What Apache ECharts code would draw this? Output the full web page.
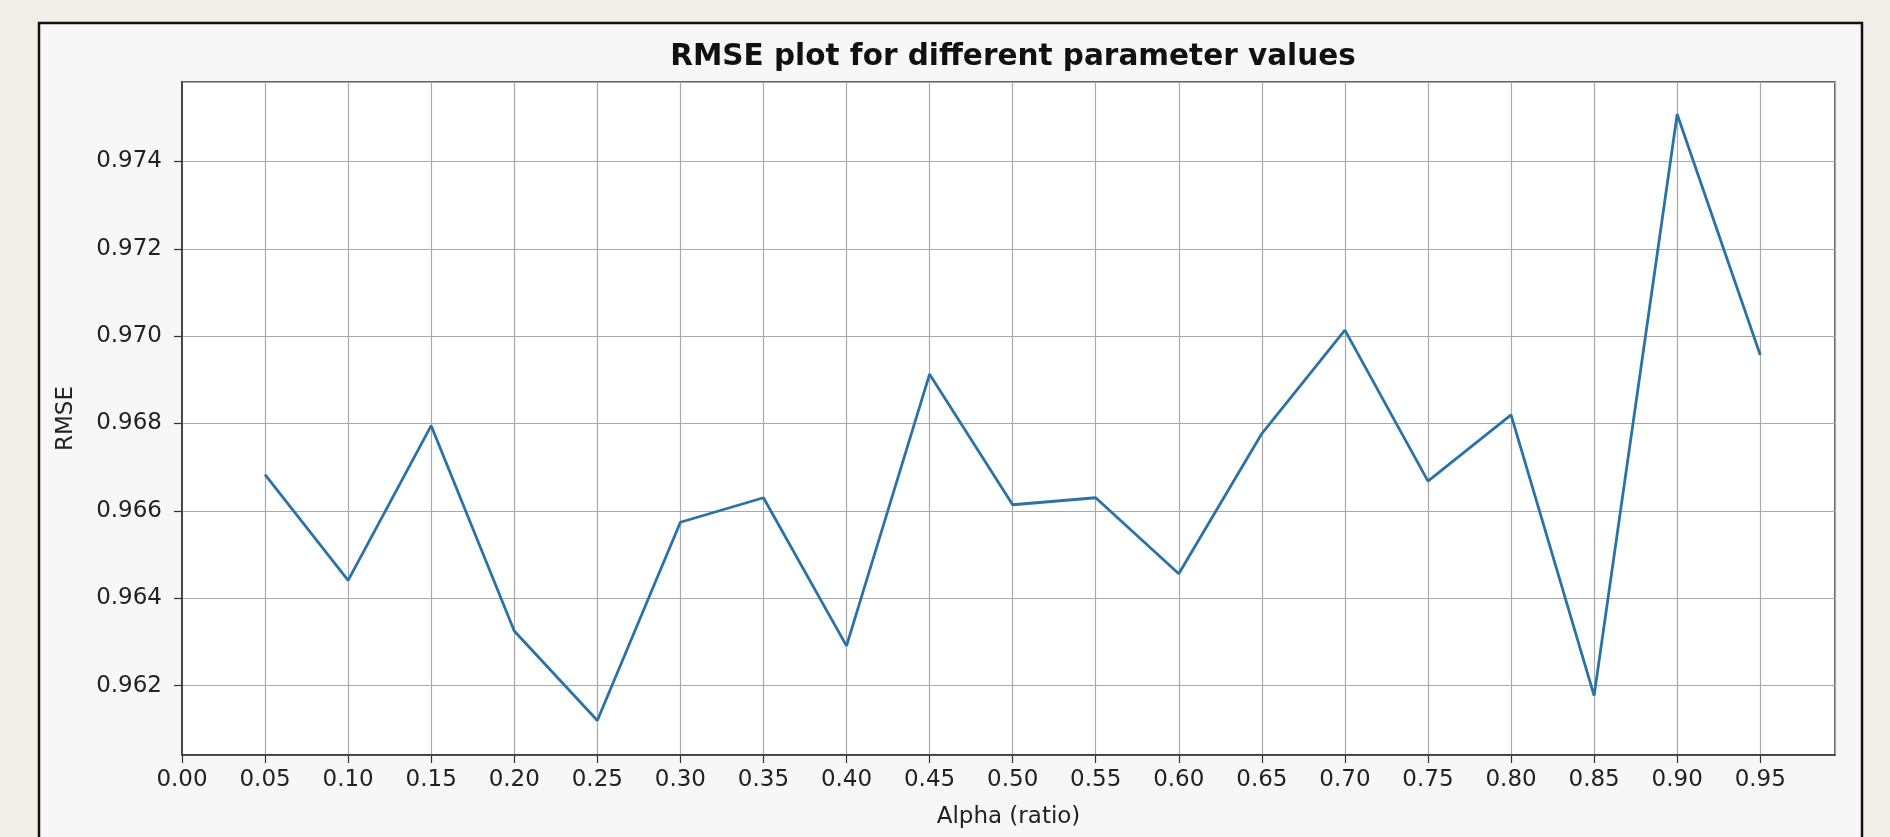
<!DOCTYPE html>
<html>
<head>
<meta charset="utf-8">
<title>RMSE plot</title>
<script src="https://cdn.jsdelivr.net/npm/echarts@6/dist/echarts.min.js"></script>
<style>
  html, body { margin: 0; padding: 0; background: #f1eee7; }
  #chart { width: 1890px; height: 837px; }
</style>
</head>
<body>
<div id="chart"></div>
<script>
// alpha 取值
var alphas = [0.05, 0.10, 0.15, 0.20, 0.25, 0.30, 0.35, 0.40, 0.45, 0.50,
  0.55, 0.60, 0.65, 0.70, 0.75, 0.80, 0.85, 0.90, 0.95];
// 每个 alpha 对应的 RMSE
var rmse = [0.96683, 0.96441, 0.96795, 0.96325, 0.96120, 0.96574, 0.96630, 0.96291, 0.96913, 0.96614,
  0.96630, 0.96456, 0.96777, 0.97014, 0.96668, 0.96820, 0.96177, 0.97508, 0.96957];
// 轴范围
var xRange = [0, 0.995];
var yRange = [0.96041, 0.97582];

var font = 'DejaVu Sans';
var chart = echarts.init(document.getElementById('chart'));
var option;

option = {
  backgroundColor: '#f1eee7',
  animation: false,
  // 外框
  graphic: [{
    type: 'rect',
    z: -100,
    silent: true,
    shape: { x: 39, y: 23, width: 1823, height: 900 },
    style: { fill: '#f7f7f7', stroke: '#111', lineWidth: 2.5 },
  }],
  title: {
    text: 'RMSE plot for different parameter values',
    left: 1008,
    top: 37,
    textAlign: 'center',
    textStyle: { fontFamily: font, fontWeight: 'bold', fontSize: 29.5, color: '#111' },
  },
  grid: {
    left: 182,
    top: 82,
    right: 55,
    bottom: 82,
    show: true,
    backgroundColor: '#ffffff',
    borderColor: '#333',
    borderWidth: 1.5,
  },
  xAxis: {
    type: 'value',
    min: xRange[0],
    max: xRange[1],
    interval: 0.05,
    name: 'Alpha (ratio)',
    nameLocation: 'middle',
    nameGap: 51,
    nameTextStyle: { fontFamily: font, fontSize: 23, color: '#222' },
    axisLine: { show: true, lineStyle: { color: '#333', width: 1.5 } },
    axisTick: { show: true, length: 8, lineStyle: { color: '#333', width: 1.2 } },
    axisLabel: {
      fontFamily: font, fontSize: 23, color: '#222', margin: 14,
      showMaxLabel: false,
      formatter: function (v) { return v.toFixed(2); },
    },
    splitLine: { show: true, lineStyle: { color: '#a8a8a8', width: 1.2 } },
  },
  yAxis: {
    type: 'value',
    min: yRange[0],
    max: yRange[1],
    splitNumber: 7,
    name: 'RMSE',
    nameLocation: 'middle',
    nameGap: 104,
    nameTextStyle: { fontFamily: font, fontSize: 23, color: '#222' },
    axisLine: { show: true, lineStyle: { color: '#333', width: 1.5 } },
    axisTick: { show: true, length: 8, lineStyle: { color: '#333', width: 1.2 } },
    axisLabel: {
      fontFamily: font, fontSize: 23, color: '#222', margin: 20,
      showMinLabel: false,
      showMaxLabel: false,
      formatter: function (v) { return v.toFixed(3); },
    },
    splitLine: { show: true, lineStyle: { color: '#a8a8a8', width: 1.2 } },
  },
  series: [{
    type: 'line',
    data: alphas.map(function (a, i) { return [a, rmse[i]]; }),
    showSymbol: false,
    lineStyle: { color: '#2b72a6', width: 2.8 },
  }],
};

chart.setOption(option);
</script>
</body>
</html>
